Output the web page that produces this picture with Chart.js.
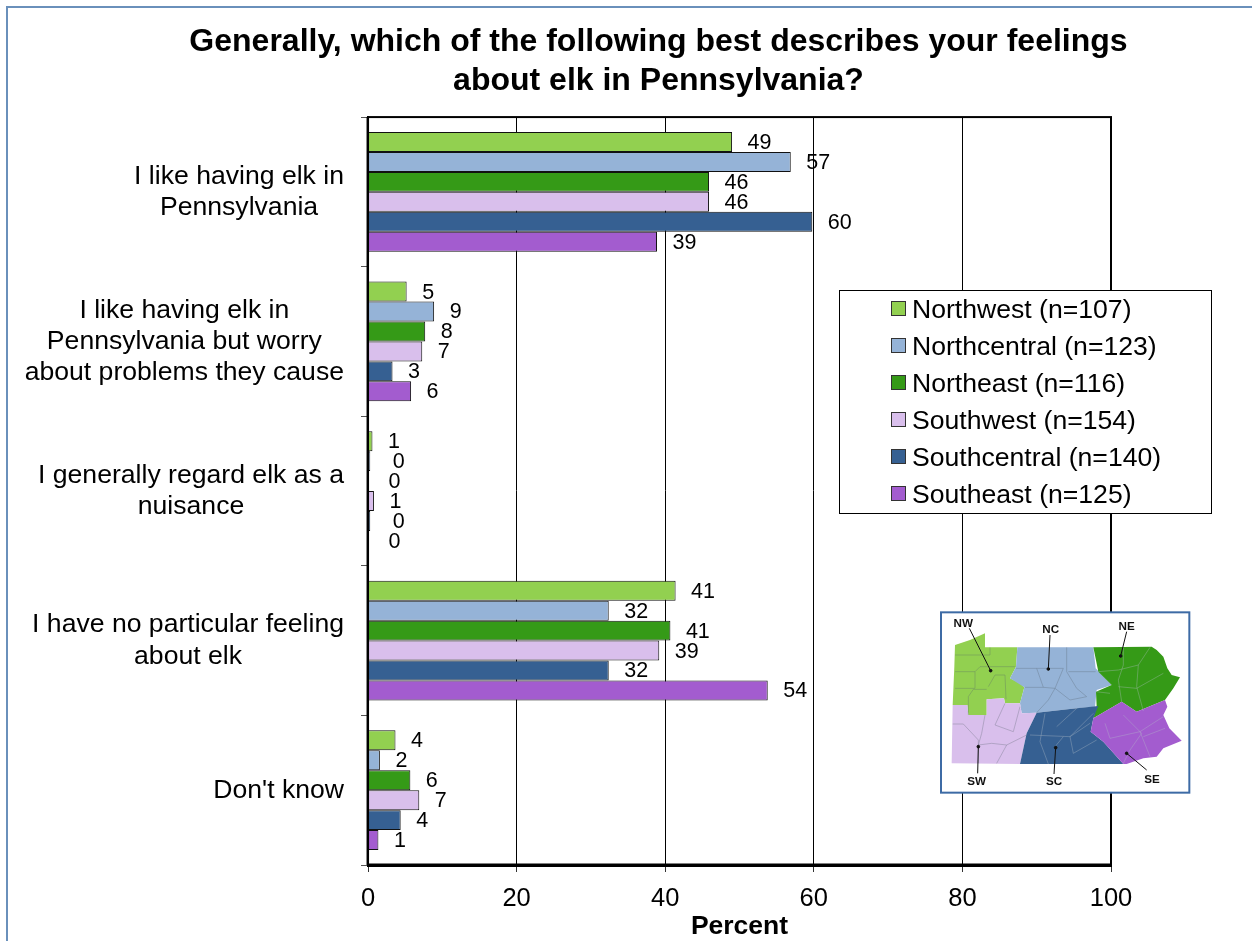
<!DOCTYPE html>
<html>
<head>
<meta charset="utf-8">
<title>Feelings about elk in Pennsylvania</title>
<script src="https://cdn.jsdelivr.net/npm/chart.js@4/dist/chart.umd.min.js"></script>
<style>
    html, body { margin: 0; padding: 0; background: #fff; overflow: hidden; }
    #wrap { position: relative; width: 1252px; height: 941px; }
    #frame { position: absolute; left: 6px; top: 6px; width: 1260px; height: 960px; border: 2px solid #6a90bb; box-sizing: border-box; }
    canvas { position: absolute; left: 0; top: 0; }
    #map { position: absolute; left: 930px; top: 600px; width: 270px; height: 200px; }
    #map text { font: bold 35px "Liberation Sans", Arial, sans-serif; text-anchor: middle; fill: #111; }
</style>
</head>
<body>
<div id="wrap">
    <div id="frame"></div>
    <canvas id="elk-chart" width="1252" height="941"></canvas>
    <svg id="map" viewBox="0 0 810 600">
        <rect x="33" y="37" width="745" height="541" fill="#fff" stroke="#3d6ba5" stroke-width="6"/>
        <polygon fill="#92d050" points="75,135 120,120 165,100 165,142 262,142 258,200 240,235 270,250 283,262 270,310 225,310 222,295 170,298 170,345 115,345 112,315 68,315 73,200"/>
        <polygon fill="#95b3d7" points="262,142 490,142 497,205 545,255 500,270 495,320 440,325 320,338 275,340 270,310 283,262 240,235 258,200"/>
        <polygon fill="#359a17" points="490,142 665,140 680,150 700,170 712,205 725,225 750,232 730,265 705,300 620,335 575,305 490,355 500,320 498,275 545,255 505,215"/>
        <polygon fill="#d9bfec" points="68,315 112,315 115,345 170,345 170,298 222,295 225,310 270,310 275,340 320,338 290,400 270,492 65,490"/>
        <polygon fill="#366092" points="320,338 440,325 505,318 490,355 482,395 520,425 580,492 270,492 290,400"/>
        <polygon fill="#a35ccf" points="575,305 620,335 705,300 712,320 700,345 718,385 755,422 700,445 680,470 640,475 590,492 580,492 520,425 482,395 490,355"/>
        <!-- county lines, rough -->
        <g fill="none" stroke="#55606b" stroke-width="1.5" opacity="0.6">
            <path d="M75,215 H135 L150,200 H255 M180,142 V165 H75 M135,215 V265 H75 M175,260 L195,225 H225 L228,298 M115,345 V290 L130,268 H170"/>
            <path d="M410,142 V215 L440,265 L470,290 L420,300 L375,265 L340,262 L320,205 H258 M320,205 H400 L375,265 L355,300 L320,338 M285,262 H340 M415,215 H497"/>
            <path d="M68,372 H100 L145,420 V490 M165,345 L155,400 L145,435 L185,430 L230,435 L200,490 M225,310 L195,375 L250,395 L270,320 M230,435 L290,405"/>
        </g>
        <g fill="none" stroke="#b4bec8" stroke-width="1.5" opacity="0.7">
            <path d="M580,142 V195 L565,240 L575,305 M505,215 L565,210 L625,195 L660,142 M625,195 L620,260 L640,333 M565,260 L620,265 L700,220 M498,275 L540,280"/>
            <path d="M345,340 L330,425 L355,492 M300,405 L420,410 L490,340 M380,380 L440,325 M420,410 L430,460 L500,420 M375,440 L400,410 M420,410 L480,370"/>
            <path d="M525,370 L540,415 L630,395 L700,350 M630,395 L660,470 M580,345 L635,400 L600,450 L580,490 M705,385 L640,410"/>
        </g>
        <g stroke="#111" stroke-width="3" fill="#111">
            <line x1="118" y1="85" x2="182" y2="212"/><circle cx="182" cy="212" r="4"/>
            <line x1="360" y1="105" x2="355" y2="207"/><circle cx="355" cy="207" r="4"/>
            <line x1="590" y1="95" x2="572" y2="168"/><circle cx="572" cy="168" r="4"/>
            <line x1="145" y1="440" x2="143" y2="520"/><circle cx="145" cy="440" r="4"/>
            <line x1="377" y1="443" x2="372" y2="522"/><circle cx="377" cy="443" r="4"/>
            <line x1="590" y1="460" x2="650" y2="510"/><circle cx="590" cy="460" r="4"/>
        </g>
        <text x="100" y="81">NW</text>
        <text x="362" y="98">NC</text>
        <text x="590" y="90">NE</text>
        <text x="140" y="556">SW</text>
        <text x="372" y="556">SC</text>
        <text x="666" y="548">SE</text>
    </svg>
</div>
<script>
// values, one per answer
const categories = [
    ['I like having elk in', 'Pennsylvania'],
    ['I like having elk in', 'Pennsylvania but worry', 'about problems they cause'],
    ['I generally regard elk as a', 'nuisance'],
    ['I have no particular feeling', 'about elk'],
    "Don't know"
];
const northwest = [49, 5.2, 0.6, 41.4, 3.7];
const northcentral = [56.9, 8.9, 0.3, 32.4, 1.6];
const northeast = [45.9, 7.7, 0, 40.7, 5.7];
const southwest = [45.9, 7.3, 0.8, 39.2, 6.9];
const southcentral = [59.8, 3.3, 0.3, 32.4, 4.4];
const southeast = [38.9, 5.8, 0, 53.8, 1.4];
const seriesNames = ['Northwest (n=107)', 'Northcentral (n=123)', 'Northeast (n=116)',
    'Southwest (n=154)', 'Southcentral (n=140)', 'Southeast (n=125)'];
const seriesColors = ['#92d050', '#95b3d7', '#359a17', '#d9bfec', '#366092', '#a35ccf'];
const xTicks = [0, 20, 40, 60, 80, 100];
const titleLines = ['Generally, which of the following best describes your feelings', 'about elk in Pennsylvania?'];

const FONT = '"Liberation Sans", Arial, sans-serif';
const allSeries = [northwest, northcentral, northeast, southwest, southcentral, southeast];

// the nuisance row has its zero labels pushed out a bit in the original
const nuisanceNudge = [0, 7, 5, 0, 7, 5];

const valueLabels = {
    id: 'valueLabels',
    afterDatasetsDraw(chart) {
        const ctx = chart.ctx;
        ctx.save();
        ctx.font = '21.5px ' + FONT;
        ctx.fillStyle = '#000';
        ctx.textAlign = 'left';
        ctx.textBaseline = 'middle';
        chart.data.datasets.forEach((ds, i) => {
            chart.getDatasetMeta(i).data.forEach((bar, j) => {
                const nudge = j === 2 ? nuisanceNudge[i] : 0;
                ctx.fillText(Math.round(ds.data[j]), bar.x + 15.5 + nudge, bar.y + 1);
            });
        });
        ctx.restore();
    }
};

const plotBox = {
    id: 'plotBox',
    afterDatasetsDraw(chart) {
        const a = chart.chartArea;
        const ctx = chart.ctx;
        ctx.save();
        ctx.strokeStyle = '#000';
        ctx.lineWidth = 2;
        ctx.strokeRect(a.left, a.top, a.right - a.left, a.bottom - a.top);
        // left axis line sits over the bars
        ctx.lineWidth = 2.5;
        ctx.beginPath();
        ctx.moveTo(a.left - 0.2, a.top);
        ctx.lineTo(a.left - 0.2, a.bottom);
        ctx.stroke();
        ctx.lineWidth = 3;
        ctx.beginPath();
        ctx.moveTo(a.left, a.bottom);
        ctx.lineTo(a.right, a.bottom);
        ctx.stroke();
        ctx.restore();
    }
};

const boxLegend = {
    id: 'boxLegend',
    afterDraw(chart) {
        const ctx = chart.ctx;
        ctx.save();
        ctx.fillStyle = '#fff';
        ctx.fillRect(839.5, 290.5, 372, 223);
        ctx.strokeStyle = '#000';
        ctx.lineWidth = 1;
        ctx.strokeRect(839.5, 290.5, 372, 223);
        ctx.font = '26.6px ' + FONT;
        ctx.textAlign = 'left';
        ctx.textBaseline = 'middle';
        chart.data.datasets.forEach((ds, i) => {
            const y = 309 + i * 37;
            ctx.fillStyle = ds.backgroundColor;
            ctx.fillRect(892, y - 7, 14, 14);
            ctx.strokeStyle = '#333';
            ctx.strokeRect(891.5, y - 7.5, 14, 14);
            ctx.fillStyle = '#000';
            ctx.fillText(ds.label, 912, y + 2);
        });
        ctx.restore();
    }
};

// title sits centred over the whole figure, not the canvas
const titleShift = {
    id: 'titleShift',
    afterLayout(chart) {
        chart.titleBlock.left = 100;
        chart.titleBlock.right = 1217;
    }
};

// category labels: block flush right at the axis, lines centred inside the block
const centreCategoryLines = {
    id: 'centreCategoryLines',
    beforeDraw(chart) {
        const scale = chart.scales.y;
        const ctx = chart.ctx;
        ctx.save();
        scale.getLabelItems().forEach(item => {
            if (item.centred) return;
            ctx.font = item.font.string;
            const lines = [].concat(item.label);
            const width = Math.max(...lines.map(l => ctx.measureText(l).width));
            item.options.textAlign = 'center';
            item.options.translation[0] -= width / 2;
            item.centred = true;
        });
        ctx.restore();
    }
};

new Chart(document.getElementById('elk-chart').getContext('2d'), {
    type: 'bar',
    data: {
        labels: categories,
        datasets: seriesNames.map((name, i) => ({
            label: name,
            data: allSeries[i],
            backgroundColor: seriesColors[i],
            borderColor: '#111',
            borderWidth: 1,
            barPercentage: 1,
            categoryPercentage: 0.8
        }))
    },
    options: {
        indexAxis: 'y',
        responsive: false,
        animation: false,
        layout: { padding: { left: 0, right: 141, top: 0, bottom: 0 } },
        plugins: {
            legend: { display: false },
            tooltip: { enabled: false },
            title: {
                display: true,
                text: titleLines,
                color: '#000',
                font: { family: FONT, size: 32, weight: 'bold', lineHeight: 1.22 },
                padding: { top: 23, bottom: 16 }
            }
        },
        scales: {
            x: {
                min: 0,
                max: 100,
                afterFit(scale) { scale.height = 76; },
                afterBuildTicks(scale) { scale.ticks = xTicks.map(v => ({ value: v })); },
                border: { color: '#000', width: 3 },
                grid: { color: '#000', lineWidth: 1, tickLength: 7, tickColor: '#333', z: 0 },
                ticks: { color: '#000', font: { family: FONT, size: 25.5 }, padding: 12, maxRotation: 0 },
                title: {
                    display: true,
                    text: 'Percent',
                    color: '#000',
                    font: { family: FONT, size: 26.5, weight: 'bold', lineHeight: 1.05 },
                    padding: { top: 0, bottom: 0 }
                }
            },
            y: {
                afterFit(scale) { scale.width = 368; },
                border: { color: '#000', width: 2 },
                grid: { drawOnChartArea: false, tickLength: 7, tickColor: '#555', lineWidth: 1 },
                ticks: {
                    color: '#000',
                    font: { family: FONT, size: 26.6, lineHeight: 1.17 },
                    padding: 17,
                    autoSkip: false
                }
            }
        }
    },
    plugins: [valueLabels, plotBox, boxLegend, titleShift, centreCategoryLines]
});
</script>
</body>
</html>
